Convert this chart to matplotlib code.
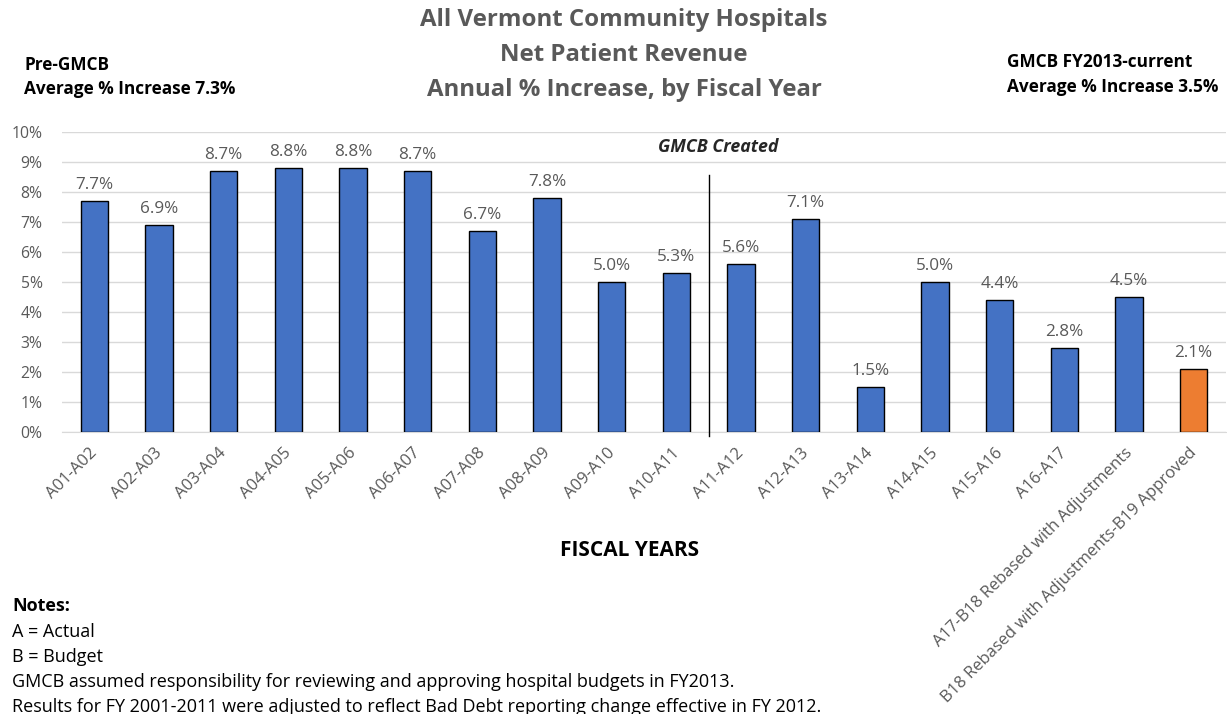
import matplotlib.pyplot as plt
import matplotlib.transforms as mtransforms
import numpy as np

plt.rcParams['font.family'] = ['Open Sans', 'DejaVu Sans']

# === DATA ===
periods = [
    "A01-A02", "A02-A03", "A03-A04", "A04-A05", "A05-A06", "A06-A07",
    "A07-A08", "A08-A09", "A09-A10", "A10-A11", "A11-A12", "A12-A13",
    "A13-A14", "A14-A15", "A15-A16", "A16-A17",
    "A17-B18 Rebased with Adjustments",
    "B18 Rebased with Adjustments-B19 Approved",
]
pct_increase = [7.7, 6.9, 8.7, 8.8, 8.8, 8.7, 6.7, 7.8, 5.0, 5.3,
                5.6, 7.1, 1.5, 5.0, 4.4, 2.8, 4.5, 2.1]
notes = [
    "A = Actual",
    "B = Budget",
    "GMCB assumed responsibility for reviewing and approving hospital budgets in FY2013.",
    "Results for FY 2001-2011 were adjusted to reflect Bad Debt reporting change effective in FY 2012.",
]

blue = '#4472C4'
orange = '#ED7D31'
gray_txt = '#595959'
colors = [blue] * (len(periods) - 1) + [orange]

x = np.arange(len(periods))

fig = plt.figure(figsize=(12.27, 7.14), dpi=100)
ax = fig.add_axes([62 / 1227, 1 - 432 / 714, 1164 / 1227, 300 / 714])

ax.bar(x, pct_increase, width=0.42, color=colors, edgecolor='black', linewidth=1, zorder=3)
for xi, v in zip(x, pct_increase):
    ax.annotate(f"{v:.1f}%", (xi, v), xytext=(0, 6), textcoords='offset points',
                ha='center', va='bottom', fontsize=12.3, color=gray_txt)

# GMCB created divider
ax.plot([9.5, 9.5], [-0.15, 8.57], color='black', linewidth=1, clip_on=False, zorder=4)
ax.text(9.65, 9.5, "GMCB Created", ha='center', va='center', fontsize=12.8,
        fontweight='bold', fontstyle='italic', color='#262626')

# === AXES STYLE ===
ax.set_xlim(-0.5, len(periods) - 0.5)
ax.set_ylim(0, 10)
ax.set_yticks(range(0, 11))
ax.set_yticklabels([f"{t}%" for t in range(0, 11)], fontsize=11.3, color=gray_txt)
ax.set_xticks(x)
ax.set_xticklabels(periods, rotation=45, ha='right', rotation_mode='anchor',
                   fontsize=12, color=gray_txt)
ax.tick_params(axis='y', length=0, pad=14)
ax.tick_params(axis='x', length=0, pad=0)
shift = mtransforms.ScaledTranslation(-5 / 100, -13 / 100, fig.dpi_scale_trans)
for lbl in ax.get_xticklabels():
    lbl.set_transform(lbl.get_transform() + shift)
ax.grid(axis='y', color='#D9D9D9', linewidth=1, zorder=0)
ax.set_axisbelow(True)
for s in ['top', 'right', 'left']:
    ax.spines[s].set_visible(False)
ax.spines['bottom'].set_color('#D9D9D9')

# === TITLES AND SIDE TEXT ===
title_lines = ["All Vermont Community Hospitals", "Net Patient Revenue",
               "Annual % Increase, by Fiscal Year"]
for i, line in enumerate(title_lines):
    fig.text(624 / 1227, 1 - (20 + 35 * i) / 714, line, ha='center', va='center',
             fontsize=17.3, fontweight='bold', color=gray_txt)

side_size = 12.4
fig.text(24 / 1227, 1 - 65 / 714, "Pre-GMCB", ha='left', va='center', fontsize=side_size, fontweight='bold')
fig.text(24 / 1227, 1 - 89 / 714, "Average % Increase 7.3%", ha='left', va='center', fontsize=side_size, fontweight='bold')
fig.text(1007 / 1227, 1 - 62 / 714, "GMCB FY2013-current", ha='left', va='center', fontsize=side_size, fontweight='bold')
fig.text(1007 / 1227, 1 - 87 / 714, "Average % Increase 3.5%", ha='left', va='center', fontsize=side_size, fontweight='bold')

fig.text(630 / 1227, 1 - 551 / 714, "FISCAL YEARS", ha='center', va='center', fontsize=15, fontweight='bold')

fig.text(12 / 1227, 1 - 606 / 714, "Notes:", ha='left', va='center', fontsize=13, fontweight='bold')
for i, line in enumerate(notes):
    fig.text(12 / 1227, 1 - (632 + 25 * i) / 714, line, ha='left', va='center', fontsize=13)

fig.savefig("out.png", dpi=100)
